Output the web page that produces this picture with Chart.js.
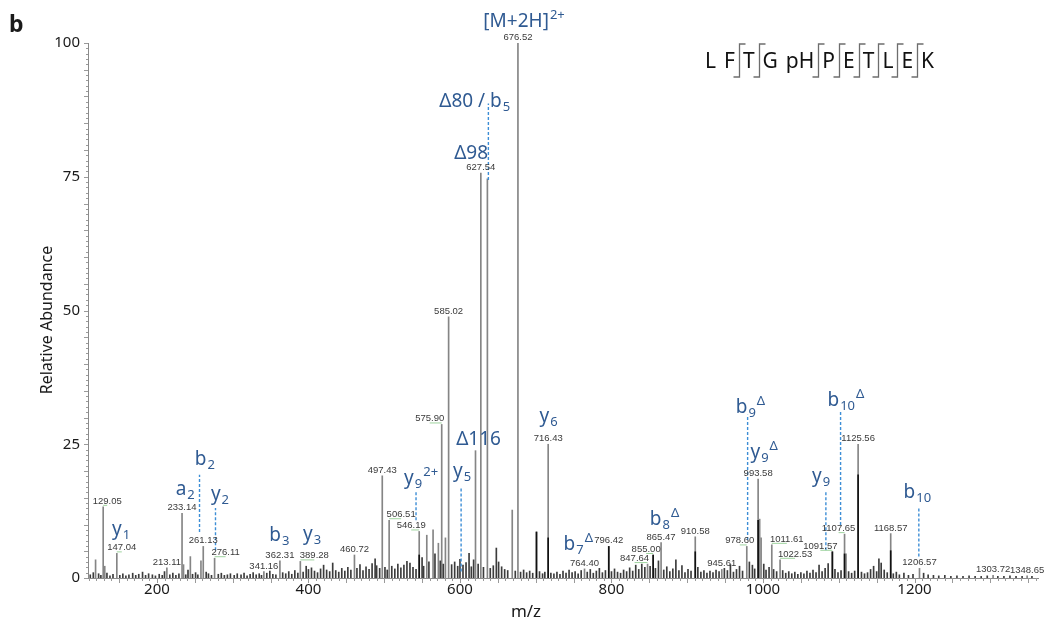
<!DOCTYPE html>
<html>
<head>
<meta charset="utf-8">
<script src="https://cdn.jsdelivr.net/npm/chart.js@4.4.0/dist/chart.umd.min.js"></script>
<style>
  html, body { margin: 0; padding: 0; background: #fff; }
  #wrap { width: 1054px; height: 626px; position: relative; }
</style>
</head>
<body>
<div id="wrap"><canvas id="spectrum"></canvas></div>
<script>
// main peaks: m/z and relative abundance
const peakMz = [119.0, 129.05, 131.1, 147.04, 213.11, 233.14, 235.1, 244.1, 258.1, 261.13,
    276.11, 341.16, 362.31, 389.28, 460.72, 497.43, 506.51, 546.19, 556.2, 564.5,
    571.5, 575.90, 580.8, 585.02, 620.5, 627.54, 636.2, 669.0, 676.52, 701.0,
    716.43, 764.40, 796.42, 847.64, 855.00, 865.47, 910.58, 945.61, 978.60, 993.58,
    995.6, 997.5, 1011.61, 1022.53, 1091.57, 1107.65, 1109.6, 1125.56, 1168.57, 1206.57,
    1303.72, 1348.65];
const peakInt = [3.4, 13.3, 2.2, 4.6, 1.9, 12.1, 2.5, 4.0, 3.2, 5.9,
    3.7, 1.2, 3.2, 3.1, 4.3, 19.1, 10.8, 8.7, 8.0, 9.0,
    6.5, 28.7, 7.5, 48.8, 23.8, 75.7, 74.6, 12.7, 100, 8.6,
    25.0, 1.7, 5.9, 2.6, 4.3, 6.6, 7.7, 1.6, 5.9, 18.5,
    11.0, 7.5, 6.2, 3.4, 4.9, 8.2, 4.5, 25.0, 8.3, 1.8,
    0.5, 0.4];

// darker lower part of some peaks
const darkMz = [546.19, 701.0, 716.43, 796.42, 855.00, 910.58, 993.58, 1091.57, 1107.65, 1125.56, 1168.57];
const darkInt = [4.3, 8.6, 7.5, 5.9, 4.3, 4.9, 10.8, 4.9, 4.5, 19.3, 5.1];

// small background peaks
const noiseMz = [112, 116, 123, 126, 134, 138, 142, 151, 155, 159,
    163, 168, 172, 176, 181, 185, 189, 194, 198, 203,
    207, 210, 217, 221, 225, 229, 238, 241, 247, 251,
    254, 265, 268, 272, 281, 285, 289, 293, 297, 302,
    306, 311, 315, 319, 323, 327, 331, 335, 338, 345,
    349, 353, 357, 366, 370, 374, 378, 382, 386, 393,
    397, 400, 404, 408, 412, 416, 420, 424, 428, 432,
    436, 440, 444, 448, 452, 456, 464, 468, 472, 476,
    480, 484, 488, 490, 494, 501, 504, 510, 514, 518,
    522, 526, 530, 534, 538, 542, 550, 552, 559, 567,
    574, 578, 589, 593, 597, 600, 604, 608, 612, 615,
    618, 624, 631, 640, 644, 648, 651, 655, 659, 663,
    673, 680, 684, 688, 692, 696, 705, 709, 712, 720,
    724, 728, 732, 736, 740, 744, 748, 752, 756, 760,
    768, 772, 776, 780, 784, 788, 792, 800, 804, 808,
    812, 816, 820, 824, 828, 832, 836, 840, 844, 851,
    858, 862, 869, 873, 877, 881, 885, 889, 893, 897,
    901, 905, 914, 918, 922, 926, 930, 934, 938, 942,
    949, 953, 957, 961, 965, 969, 973, 982, 986, 989,
    1001, 1004, 1008, 1014, 1018, 1026, 1030, 1034, 1038, 1042,
    1046, 1050, 1054, 1058, 1062, 1066, 1070, 1074, 1078, 1082,
    1086, 1095, 1099, 1103, 1113, 1117, 1121, 1130, 1134, 1138,
    1142, 1146, 1150, 1153, 1156, 1160, 1164, 1172, 1176, 1180,
    1186, 1192, 1198, 1212, 1218, 1225, 1232, 1240, 1248, 1256,
    1264, 1272, 1280, 1288, 1296, 1310, 1318, 1326, 1334, 1342,
    1355];
const noiseInt = [0.6, 1.0, 0.8, 0.5, 0.9, 0.4, 0.7, 0.5, 0.8, 0.4,
    0.6, 0.9, 0.5, 0.7, 1.1, 0.5, 0.8, 0.6, 0.4, 0.7,
    0.5, 1.2, 0.6, 0.9, 0.5, 0.8, 0.6, 1.5, 0.7, 1.0,
    0.6, 1.1, 0.8, 0.5, 0.7, 0.9, 0.5, 0.6, 0.8, 0.5,
    0.8, 0.6, 0.9, 0.4, 0.7, 1.0, 0.6, 0.8, 0.5, 0.9,
    1.3, 0.7, 0.6, 1.0, 0.8, 1.2, 0.7, 1.4, 0.9, 1.1,
    2.2, 1.6, 1.9, 1.3, 1.0, 1.7, 2.4, 1.5, 1.2, 2.8,
    1.4, 1.1, 1.8, 1.3, 2.0, 1.5, 1.8, 2.5, 1.4, 2.1,
    1.6, 2.7, 3.6, 2.3, 1.8, 2.0, 1.5, 2.2, 1.7, 2.6,
    1.9, 2.4, 3.1, 2.8, 2.0, 1.6, 3.8, 2.2, 3.0, 4.5,
    3.2, 2.6, 2.5, 3.0, 2.2, 3.5, 2.4, 2.9, 4.6, 2.1,
    3.4, 2.6, 2.0, 1.8, 2.3, 5.6, 3.0, 2.1, 1.6, 1.4,
    1.3, 1.1, 1.5, 1.0, 1.3, 0.9, 1.2, 0.8, 1.1, 0.9,
    0.8, 1.1, 0.7, 1.3, 0.9, 1.5, 1.0, 1.2, 0.8, 1.4,
    1.1, 1.6, 0.9, 1.3, 1.8, 1.0, 1.4, 1.2, 1.7, 1.1,
    0.9, 1.5, 1.2, 1.9, 1.3, 2.4, 1.6, 2.6, 2.0, 2.2,
    1.8, 3.2, 1.5, 2.1, 1.2, 1.7, 3.4, 1.4, 2.3, 1.0,
    1.6, 1.3, 2.0, 1.1, 1.4, 0.9, 1.3, 1.0, 1.5, 1.2,
    1.8, 1.4, 2.5, 1.1, 1.6, 2.2, 1.3, 3.0, 2.4, 1.7,
    2.6, 1.5, 2.0, 1.6, 1.2, 1.4, 0.9, 1.2, 0.8, 1.1,
    0.7, 1.0, 0.8, 1.3, 0.9, 1.5, 1.0, 2.4, 1.2, 1.8,
    2.7, 1.6, 1.0, 1.4, 1.2, 0.9, 1.3, 1.1, 0.8, 1.0,
    1.6, 2.2, 1.2, 3.6, 2.8, 1.5, 1.0, 0.8, 1.1, 0.6,
    0.9, 0.5, 0.7, 0.9, 0.6, 0.5, 0.4, 0.5, 0.3, 0.4,
    0.3, 0.4, 0.3, 0.3, 0.4, 0.3, 0.3, 0.4, 0.3, 0.3,
    0.3];

// peaks that carry an m/z label
const labelMz = ['129.05', '147.04', '213.11', '233.14', '261.13', '276.11', '341.16', '362.31',
    '389.28', '460.72', '497.43', '506.51', '546.19', '575.90', '585.02', '627.54', '676.52',
    '716.43', '764.40', '796.42', '847.64', '855.00', '865.47', '910.58', '945.61', '978.60',
    '993.58', '1011.61', '1022.53', '1091.57', '1107.65', '1125.56', '1168.57', '1206.57',
    '1303.72', '1348.65'];

// blue dashed markers for assigned fragments
const annMz = [256.2, 277.3, 542.0, 601.5, 637.5, 979.7, 1083.0, 1102.4, 1205.7];
const annLow = [8.6, 5.2, 10.8, 1.2, 74.4, 7.1, 5.2, 9.9, 4.0];
const annHigh = [19.3, 13.1, 16.4, 17.1, 88.7, 30.5, 16.1, 31.1, 13.0];

// fragment ion names
const ionBase = ['[M+2H]', 'Δ80 / b', 'Δ98', 'Δ116', 'y', 'y', 'y', 'b', 'b', 'b',
    'y', 'y', 'b', 'b', 'a', 'b', 'y', 'y', 'b', 'y'];
const ionSub = ['', '5', '', '', '5', '9', '6', '7', '8', '9',
    '9', '9', '10', '10', '2', '2', '2', '1', '3', '3'];
const ionSup = ['2+', '', '', '', '', '2+', '', 'Δ', 'Δ', 'Δ',
    'Δ', '', 'Δ', '', '', '', '', '', '', ''];
const ionMz = [684.6, 619.5, 614.7, 624.5, 602.8, 548.7, 717.0, 756.2, 870.0, 983.4,
    1001.6, 1076.7, 1109.4, 1203.7, 237.3, 263.3, 283.2, 152.6, 361.6, 404.9];
const ionY = [103.0, 88.1, 78.4, 24.9, 18.9, 17.6, 29.2, 5.2, 9.9, 30.8,
    22.4, 18.0, 32.1, 14.9, 15.5, 21.1, 14.6, 8.0, 6.9, 7.1];

const xTicks = [200, 400, 600, 800, 1000, 1200];
const yTicks = [0, 25, 50, 75, 100];

// peptide sequence, cleaved = bond after residue i is observed
const sequence = ['L', 'F', 'T', 'G', 'pH', 'P', 'E', 'T', 'L', 'E', 'K'];
const cleaved = [false, true, true, false, true, true, true, true, true, true];

const FONT = '"Noto Sans", "Open Sans", sans-serif';
const BLUE = '#2f5a92';

// label offsets where the label sits beside its peak (px)
const labelNudge = {
    '129.05': 4, '147.04': 5, '276.11': 11, '389.28': 14, '506.51': 12, '546.19': -8,
    '575.90': -12, '847.64': -13, '855.00': -7, '978.60': -7, '1011.61': 15,
    '1022.53': 15, '1091.57': -12, '1107.65': -6
};

function toPoints(xs, ys) {
    return xs.map((v, i) => ({ x: v, y: ys[i] }));
}

const dashData = [];
annMz.forEach((m, i) => {
    dashData.push({ x: m, y: annLow[i] }, { x: m, y: annHigh[i] }, { x: m, y: null });
});

function drawIon(ctx, cx, by, base, sub, sup) {
    ctx.font = '19px ' + FONT;
    const wb = ctx.measureText(base).width;
    ctx.font = '13px ' + FONT;
    const ws = sub ? ctx.measureText(sub).width + 1 : 0;
    const wp = sup ? ctx.measureText(sup).width + 1 : 0;
    let x0 = cx - (wb + ws + wp) / 2;
    ctx.textAlign = 'left';
    ctx.textBaseline = 'alphabetic';
    ctx.fillStyle = BLUE;
    ctx.font = '19px ' + FONT;
    ctx.fillText(base, x0, by);
    x0 += wb;
    ctx.font = '13px ' + FONT;
    if (sub) {
        ctx.fillText(sub, x0 + 1, by + 4);
        x0 += ws;
    }
    if (sup) {
        ctx.fillText(sup, x0 + 1, by - 8);
    }
}

const decorations = {
    id: 'decorations',
    afterDraw(chart) {
        const { ctx, chartArea: area, scales: { x, y } } = chart;
        ctx.save();

        // minor ticks on both axes
        ctx.strokeStyle = '#9a9a9a';
        ctx.lineWidth = 1;
        ctx.beginPath();
        for (let v = 0; v <= 100; v++) {
            const py = Math.round(y.getPixelForValue(v)) + 0.5;
            const len = v % 5 === 0 ? 4 : 2;
            ctx.moveTo(area.left - len, py);
            ctx.lineTo(area.left, py);
        }
        for (let v = 110; v <= 1360; v += 10) {
            const px = Math.round(x.getPixelForValue(v)) + 0.5;
            const len = v % 50 === 0 ? 5 : 3;
            ctx.moveTo(px, area.bottom);
            ctx.lineTo(px, area.bottom + len);
        }
        ctx.stroke();

        // m/z labels above peaks
        ctx.font = '9.5px "Liberation Sans", Arial, sans-serif';
        ctx.textAlign = 'center';
        ctx.textBaseline = 'alphabetic';
        labelMz.forEach(s => {
            const m = parseFloat(s);
            const idx = peakMz.indexOf(m);
            if (idx < 0) return;
            const px = x.getPixelForValue(m);
            const py = y.getPixelForValue(peakInt[idx]);
            const lx = px + (labelNudge[s] || 0);
            if (labelNudge[s]) {
                ctx.strokeStyle = '#9fd49f';
                ctx.beginPath();
                ctx.moveTo(px, py - 1.5);
                ctx.lineTo(lx, py - 1.5);
                ctx.stroke();
            }
            ctx.fillStyle = '#3a3a3a';
            ctx.fillText(s, lx, py - 3);
        });

        // fragment ion names
        ionBase.forEach((b, i) => {
            drawIon(ctx, x.getPixelForValue(ionMz[i]), y.getPixelForValue(ionY[i]), b, ionSub[i], ionSup[i]);
        });

        // axis titles
        ctx.fillStyle = '#1a1a1a';
        ctx.font = '17px ' + FONT;
        ctx.textAlign = 'center';
        ctx.textBaseline = 'middle';
        ctx.fillText('m/z', 526, 612);
        ctx.save();
        ctx.translate(47, 320);
        ctx.rotate(-Math.PI / 2);
        ctx.font = '16px ' + FONT;
        ctx.fillText('Relative Abundance', 0, 0);
        ctx.restore();

        // panel letter
        ctx.font = 'bold 23px ' + FONT;
        ctx.textAlign = 'left';
        ctx.textBaseline = 'alphabetic';
        ctx.fillText('b', 9, 32);

        // peptide sequence with fragment brackets
        ctx.font = '21px ' + FONT;
        ctx.fillStyle = '#111';
        let sx = 705;
        const gap = 8;
        sequence.forEach((r, i) => {
            const w = ctx.measureText(r).width;
            ctx.fillText(r, sx, 68);
            sx += w;
            if (i < cleaved.length) {
                if (cleaved[i]) {
                    const bx = Math.round(sx + gap / 2) + 0.5;
                    ctx.strokeStyle = '#6d6d6d';
                    ctx.lineWidth = 1.3;
                    ctx.beginPath();
                    ctx.moveTo(bx + 6, 44);
                    ctx.lineTo(bx, 44);
                    ctx.lineTo(bx, 77);
                    ctx.lineTo(bx - 6, 77);
                    ctx.stroke();
                }
                sx += gap;
            }
        });

        ctx.restore();
    }
};

new Chart(document.getElementById('spectrum'), {
    type: 'bar',
    data: {
        datasets: [
            {
                type: 'line',
                data: dashData,
                borderColor: '#3d8ed6',
                borderWidth: 1.4,
                borderDash: [3, 2],
                pointRadius: 0,
                spanGaps: false,
                order: 0
            },
            {
                data: toPoints(darkMz, darkInt),
                backgroundColor: '#111',
                barThickness: 1,
                grouped: false,
                order: 1
            },
            {
                data: toPoints(noiseMz, noiseInt),
                backgroundColor: '#3c3c3c',
                barThickness: 1,
                grouped: false,
                order: 2
            },
            {
                data: toPoints(peakMz, peakInt),
                backgroundColor: '#858585',
                barThickness: 1,
                grouped: false,
                order: 3
            }
        ]
    },
    options: {
        responsive: true,
        maintainAspectRatio: false,
        animation: false,
        events: [],
        layout: {
            padding: { left: 0, top: 43, right: 16, bottom: 0 }
        },
        plugins: {
            legend: { display: false },
            tooltip: { enabled: false }
        },
        scales: {
            x: {
                type: 'linear',
                offset: false,
                min: 109,
                max: 1363,
                afterBuildTicks: scale => { scale.ticks = xTicks.map(v => ({ value: v })); },
                afterFit: scale => { scale.height = 48; },
                grid: { display: false, drawTicks: false },
                border: { display: true, color: '#8a8a8a' },
                ticks: {
                    color: '#1a1a1a',
                    padding: 3,
                    maxRotation: 0,
                    callback: v => String(v),
                    font: { family: FONT, size: 15 }
                }
            },
            y: {
                min: 0,
                max: 100,
                afterBuildTicks: scale => { scale.ticks = yTicks.map(v => ({ value: v })); },
                afterFit: scale => { scale.width = 88; },
                grid: { display: false, drawTicks: false },
                border: { display: true, color: '#8a8a8a' },
                ticks: {
                    color: '#1a1a1a',
                    padding: 8,
                    font: { family: FONT, size: 15 }
                }
            }
        }
    },
    plugins: [decorations]
});
</script>
</body>
</html>
